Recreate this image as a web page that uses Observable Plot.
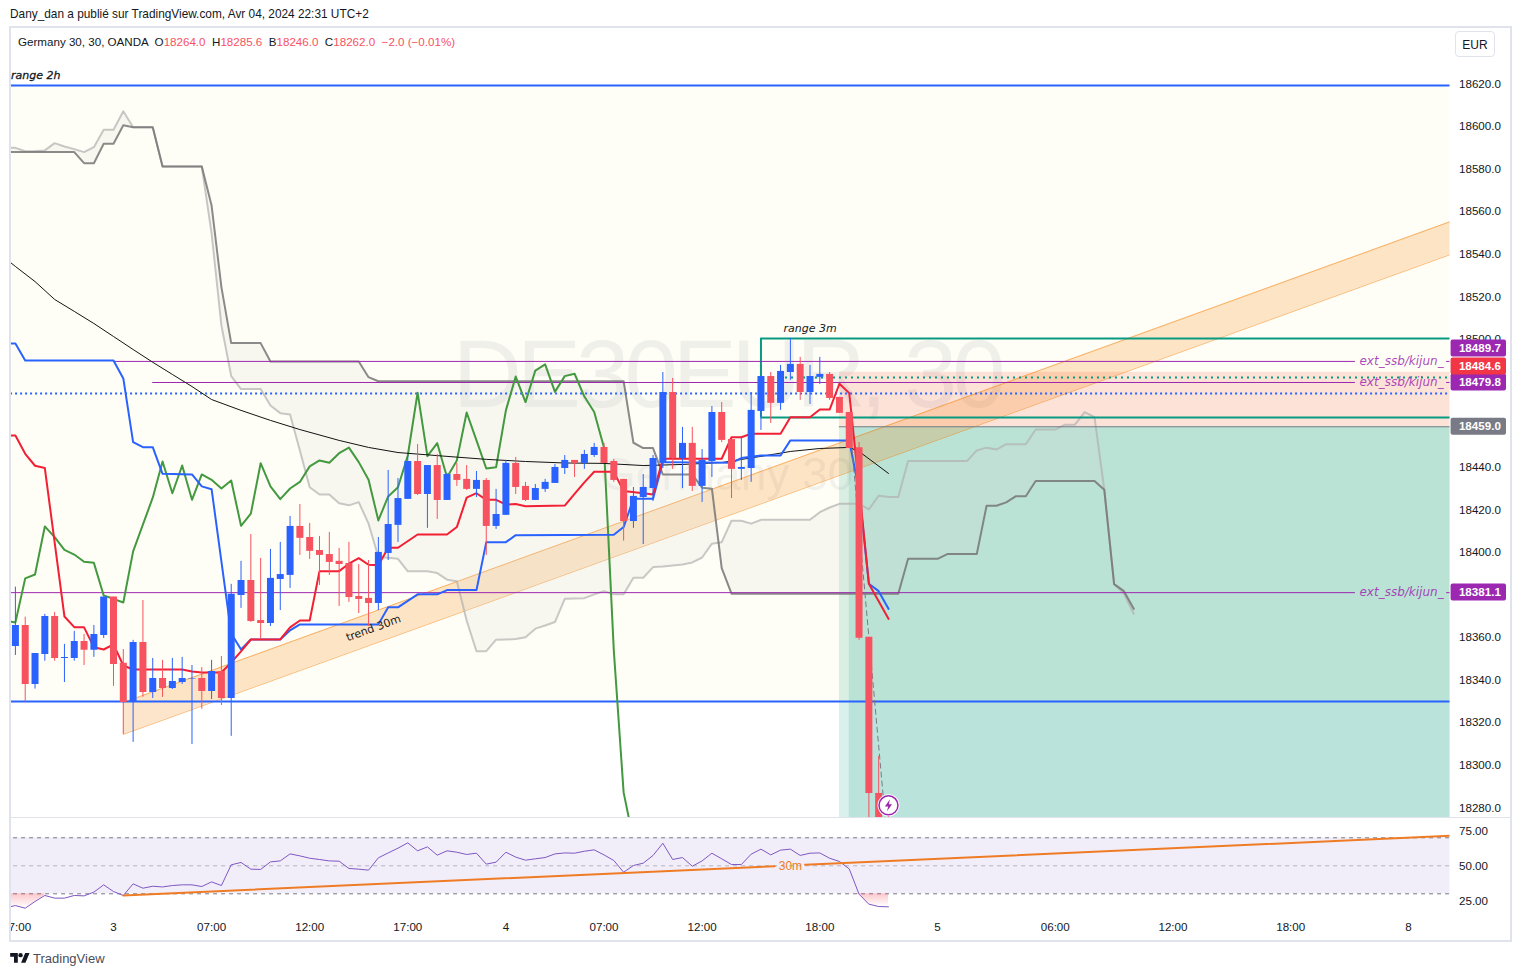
<!DOCTYPE html>
<html>
<head>
<meta charset="utf-8">
<script src="https://cdn.jsdelivr.net/npm/d3@7"></script>
<script src="https://cdn.jsdelivr.net/npm/@observablehq/plot@0.6"></script>
<style>
html,body{margin:0;padding:0;background:#fff;}
#page{position:relative;width:1521px;height:977px;overflow:hidden;font-family:"Liberation Sans",sans-serif;color:#131722;font-size:12px;}
#page>*{position:absolute;}
.frame{left:9px;top:26px;width:1503px;height:916px;border:2px solid #e0e3eb;box-sizing:border-box;}
.sep{left:11px;top:817px;width:1499px;height:1px;background:#e0e3eb;}
.title{left:10px;top:7px;white-space:pre;font-size:11.85px;}
.legend{left:18px;top:35px;white-space:pre;font-size:11.6px;}
.legend b{font-weight:normal;color:#f7525f;}
.eur{left:1455px;top:31px;width:40px;height:26px;border:1px solid #e0e3eb;border-radius:4px;text-align:center;line-height:26px;box-sizing:border-box;background:#fff;}
.brand{left:33px;top:951px;font-size:13px;color:#4a4e5a;}
.logo{left:10px;top:953px;}
svg{overflow:visible;}
</style>
</head>
<body>
<div id="page">
  <div class="title">Dany_dan a publié sur TradingView.com, Avr 04, 2024 22:31 UTC+2</div>
  <div class="legend">Germany 30, 30, OANDA  O<b>18264.0</b>  H<b>18285.6</b>  B<b>18246.0</b>  C<b>18262.0</b>  <b>−2.0 (−0.01%)</b></div>
  <svg class="logo" width="20" height="12" viewBox="0 0 36 22"><path fill="#131722" d="M14 18H7V7H0V0h14v18zM28 18h-8l7.5-18h8L28 18z"/><circle cx="19" cy="4" r="4" fill="#131722"/></svg>
  <div class="brand">TradingView</div>
</div>
<script>
// ---- candles, one entry per 30-minute bar (bar 0 is the first whole candle on the left)
const opens = [18355.8,18365.7,18338.0,18352.1,18369.9,18350.2,18350.2,18358.2,18354.0,18361.0,18379.0,18347.9,18330.0,18357.7,18334.2,18340.8,18336.1,18338.9,18340.5,18340.8,18334.7,18344.1,18331.4,18379.8,18386.8,18368.0,18366.6,18387.3,18389.2,18412.2,18407.0,18400.9,18399.0,18395.8,18394.8,18379.3,18378.4,18376.0,18399.5,18412.7,18424.9,18442.7,18427.2,18440.8,18424.4,18436.6,18434.3,18429.6,18433.8,18412.2,18417.4,18441.8,18431.0,18424.4,18429.6,18432.4,18439.4,18443.2,18441.8,18445.5,18449.3,18442.7,18434.3,18414.5,18425.8,18430.0,18441.8,18475.1,18444.1,18451.2,18431.0,18442.7,18465.7,18453.0,18439.0,18439.4,18466.2,18482.6,18470.0,18484.5,18488.3,18475.1,18482.2,18483.6,18472.8,18465.7,18449.2,18360.1,18286.8,18264.0];
const highs = [18383.7,18369.6,18352.5,18370.9,18371.8,18356.8,18362.9,18361.5,18365.7,18379.0,18379.0,18354.4,18358.7,18377.4,18350.2,18349.3,18350.2,18350.7,18346.9,18345.9,18349.3,18351.1,18385.0,18395.8,18408.4,18397.2,18401.4,18404.7,18416.9,18422.5,18413.6,18407.5,18409.4,18401.9,18404.7,18394.3,18396.2,18407.0,18438.5,18434.7,18445.5,18450.7,18440.8,18446.0,18437.1,18441.8,18440.8,18438.0,18434.7,18429.6,18443.2,18444.6,18432.9,18431.9,18434.3,18441.3,18445.5,18443.2,18447.9,18451.2,18451.2,18443.7,18434.3,18430.5,18436.6,18445.5,18484.5,18481.7,18458.7,18458.7,18448.3,18468.5,18470.4,18453.0,18454.0,18475.1,18482.6,18484.5,18487.8,18500.5,18491.6,18487.8,18491.6,18484.5,18472.8,18465.7,18451.6,18360.1,18304.2,18285.6];
const lows = [18351.6,18329.7,18335.8,18348.9,18348.9,18338.9,18348.9,18346.9,18350.7,18359.6,18337.1,18314.5,18310.8,18332.0,18331.4,18331.9,18335.6,18338.0,18309.8,18326.3,18330.9,18328.1,18313.6,18373.7,18367.1,18359.3,18365.2,18372.7,18383.1,18398.6,18396.7,18384.5,18389.2,18374.6,18376.5,18371.3,18365.2,18372.7,18396.2,18404.7,18424.9,18426.7,18411.3,18415.5,18424.4,18431.0,18429.1,18425.8,18398.6,18410.8,18417.4,18427.2,18423.9,18424.4,18428.2,18432.4,18436.6,18435.2,18439.0,18444.6,18441.8,18432.9,18405.3,18411.3,18403.7,18423.9,18439.4,18439.0,18430.0,18428.6,18423.5,18435.2,18451.6,18425.3,18433.8,18432.9,18457.3,18460.6,18466.7,18480.8,18471.4,18469.5,18478.9,18471.4,18465.3,18448.8,18358.7,18262.0,18255.0,18246.0];
const closes = [18365.7,18338.0,18352.5,18369.9,18350.2,18350.7,18358.2,18354.0,18361.5,18379.0,18347.4,18329.5,18357.7,18334.2,18340.8,18336.1,18339.4,18340.8,18340.8,18334.7,18344.1,18331.4,18380.3,18386.8,18367.6,18366.6,18387.8,18389.6,18412.2,18406.6,18400.5,18398.6,18395.3,18394.3,18378.8,18377.9,18376.0,18400.0,18413.1,18425.3,18442.7,18427.2,18440.8,18424.4,18436.6,18433.8,18429.6,18433.8,18412.2,18417.8,18441.8,18430.5,18424.4,18430.0,18432.9,18439.9,18443.2,18441.8,18446.0,18449.3,18441.8,18433.8,18414.5,18426.3,18430.5,18444.1,18475.1,18444.1,18451.2,18431.0,18443.2,18465.7,18452.6,18439.0,18439.9,18466.7,18482.6,18470.0,18485.0,18488.3,18475.1,18482.6,18483.6,18472.3,18465.3,18448.8,18359.7,18286.8,18264.0,18262.0];

// ---- indicator lines, [bar, price] at each vertex
const redLine = [[-1,18454.9],[0,18454.9],[1,18446.3],[2,18440.7],[3,18439.6],[5,18369.9],[6,18364.9],[7,18364.8],[8,18355.5],[9,18354.4],[10,18356.8],[11,18346.9],[12,18345.0],[17,18345.0],[18,18344.1],[19,18343.6],[21,18343.6],[22,18348.3],[23,18353.5],[24,18359.1],[27,18359.1],[28,18364.8],[29,18368.0],[30,18368.0],[31,18391.2],[33,18391.2],[34,18394.7],[35,18397.3],[36,18394.2],[37,18394.0],[38,18402.2],[39,18402.2],[41,18408.4],[44,18408.4],[45,18411.9],[46,18425.7],[47,18427.8],[48,18424.7],[49,18424.7],[50,18422.5],[51,18422.7],[52,18421.7],[56,18422.0],[57,18427.5],[58,18432.9],[59,18437.9],[61,18437.9],[62,18428.8],[64,18427.8],[65,18427.2],[66,18444.0],[72,18444.0],[73,18454.1],[74,18454.1],[75,18455.7],[78,18455.7],[79,18463.5],[81,18463.5],[82,18467.1],[83,18467.1],[84,18479.2],[85,18474.8],[86,18431.0],[87,18385.3],[89,18368.8]];
const blueLine = [[-1,18498.1],[0,18498.1],[1,18490.1],[10,18490.1],[11,18481.7],[12,18451.8],[13,18449.4],[14,18449.4],[15,18436.9],[18,18436.6],[19,18431.0],[20,18429.7],[22,18361.9],[23,18354.4],[24,18359.1],[27,18359.1],[28,18363.4],[29,18366.2],[37,18366.2],[38,18374.2],[39,18374.2],[41,18380.3],[43,18380.3],[44,18382.3],[47,18382.3],[48,18404.8],[50,18404.8],[51,18408.1],[61,18408.3],[62,18411.9],[63,18425.2],[65,18425.2],[66,18442.4],[73,18442.1],[74,18444.3],[76,18445.5],[78,18445.5],[79,18452.6],[85,18452.6],[86,18429.1],[87,18385.3],[88,18381.8],[89,18373.5]];
const greenLine = [[-1,18368.0],[0,18367.1],[1,18387.8],[2,18389.6],[3,18412.2],[4,18407.2],[5,18401.2],[6,18399.0],[7,18395.6],[8,18395.1],[9,18379.8],[11,18376.5],[12,18400.5],[14,18425.7],[15,18442.7],[16,18427.8],[17,18440.8],[18,18424.7],[19,18436.6],[20,18434.1],[21,18430.0],[22,18433.8],[23,18412.5],[24,18418.2],[25,18441.9],[26,18431.0],[27,18425.0],[28,18430.0],[29,18433.1],[30,18440.4],[31,18443.2],[32,18442.1],[33,18446.6],[34,18449.2],[35,18442.4],[36,18434.1],[37,18415.0],[38,18426.3],[39,18430.6],[40,18445.5],[41,18475.0],[42,18445.2],[43,18451.3],[44,18435.3],[45,18443.2],[46,18465.7],[47,18452.6],[48,18439.4],[49,18440.0],[50,18466.7],[51,18482.6],[52,18470.6],[53,18485.4],[54,18488.3],[55,18475.4],[56,18482.8],[57,18483.9],[58,18473.2],[59,18465.9],[60,18449.3],[61,18354.0],[62,18287.3],[63,18264.7]];
const maLine = [[-1,18538.0],[0,18534.3],[2,18527.2],[4,18518.8],[6,18513.2],[8,18507.5],[10,18501.4],[12,18495.3],[14,18489.3],[16,18483.6],[18,18477.9],[20,18471.8],[23,18466.7],[26,18462.0],[29,18457.7],[33,18452.6],[36,18449.3],[39,18446.9],[44,18445.1],[48,18443.7],[52,18442.7],[56,18442.0],[60,18441.8],[64,18440.8],[68,18441.3],[72,18442.2],[76,18445.1],[79,18447.4],[82,18448.8],[85,18449.3],[86,18447.4],[89,18437.1]];

// ---- Ichimoku cloud, one value per bar starting at bar -1
const spanA = [18590.0,18590.0,18588.4,18588.5,18588.8,18592.2,18590.6,18589.4,18588.0,18590.3,18598.5,18598.5,18607.2,18599.7,18599.7,18599.7,18581.2,18581.2,18581.2,18581.2,18581.2,18549.8,18506.6,18482.8,18476.7,18476.7,18476.7,18469.0,18465.4,18464.8,18447.9,18430.6,18427.2,18427.2,18423.1,18422.1,18423.6,18413.5,18397.8,18397.5,18397.0,18391.1,18391.1,18391.1,18390.3,18387.2,18386.5,18368.0,18353.6,18353.6,18359.0,18359.1,18359.3,18360.2,18364.2,18365.7,18367.3,18378.2,18378.4,18378.5,18380.3,18381.8,18380.3,18380.3,18388.1,18388.1,18393.1,18393.4,18393.9,18394.3,18395.3,18397.6,18404.1,18404.8,18414.9,18414.9,18413.5,18415.3,18415.3,18415.3,18415.3,18415.3,18415.3,18418.9,18421.1,18422.8,18422.8,18422.8,18420.2,18426.6,18426.0,18426.0,18442.9,18442.9,18442.9,18442.9,18442.9,18442.9,18442.9,18447.9,18449.2,18448.3,18450.8,18450.8,18450.8,18457.7,18457.7,18457.7,18460.0,18460.0,18465.9,18463.5,18429.4,18385.1,18380.7,18371.2];
const spanB = [18588.0,18588.0,18588.0,18588.0,18588.0,18588.0,18588.0,18588.0,18582.8,18582.8,18591.9,18591.9,18600.6,18599.7,18599.7,18599.7,18581.2,18581.2,18581.2,18581.2,18581.2,18562.9,18524.6,18498.3,18498.3,18498.3,18498.3,18489.7,18489.7,18489.7,18489.7,18489.7,18489.7,18489.7,18489.7,18489.7,18489.7,18482.3,18480.4,18480.4,18480.4,18480.4,18480.4,18480.4,18480.4,18480.4,18480.4,18480.4,18480.4,18480.4,18480.4,18480.4,18480.4,18480.4,18480.4,18480.4,18480.4,18480.4,18480.4,18480.4,18480.4,18480.4,18480.4,18480.4,18451.5,18449.0,18449.0,18436.6,18436.6,18436.6,18436.6,18430.4,18429.9,18392.6,18380.6,18380.6,18380.6,18380.6,18380.6,18380.6,18380.6,18380.6,18380.6,18380.6,18380.6,18380.6,18380.6,18380.6,18380.6,18380.6,18380.6,18380.6,18397.0,18397.0,18397.0,18397.0,18399.2,18399.2,18399.2,18399.2,18421.9,18421.9,18423.5,18426.4,18426.4,18433.5,18433.5,18433.5,18433.5,18433.5,18433.5,18433.5,18429.4,18385.1,18381.8,18373.5];

// ---- drawings
const rangeTwoHours = [18619.3, 18330.0];
const dottedBlue = 18474.6;
const rangeThreeMinutes = [18500.5, 18463.4];
const dottedTeal = 18482.2;
const stopZone = [18484.6, 18459.0];
const profitZone = [18459.0, 18200.0];
const purpleLevels = [18489.7, 18479.8, 18381.1];
const channelBars = [11, 146.3];
const channelUpper = [18329.5, 18555.4];
const channelLower = [18314.5, 18539.9];
const forecastPath = [[85.2,18452.6],[88.5,18283.5]];

// ---- price scale labels and tags
const priceTicks = [18280,18300,18320,18340,18360,18380,18400,18420,18440,18460,18480,18500,18520,18540,18560,18580,18600,18620];
const tagLabels = ["18489.7","18484.6","18479.8","18459.0","18381.1"];
const tagCentres = [18495.8,18487.3,18479.8,18459.0,18381.2];
const tagColours = ["#9c27b0","#f23645","#9c27b0","#787b86","#9c27b0"];

// ---- RSI pane, one value per bar starting at bar -1
const rsi = [20.0,21.6,19.7,24.5,28.8,26.9,26.9,28.8,28.5,31.2,36.4,31.6,28.8,37.1,34.0,35.4,34.9,35.9,36.4,36.4,35.2,38.5,35.9,50.7,52.4,47.6,47.4,52.8,53.5,58.5,57.1,55.4,54.5,53.5,53.3,48.1,47.6,46.9,55.7,59.2,62.6,66.4,60.7,63.5,57.6,60.7,59.7,58.1,59.0,51.2,52.6,59.7,56.2,54.0,55.0,55.9,58.5,59.2,59.0,60.4,61.4,57.8,53.8,45.4,50.2,51.9,57.4,66.1,54.5,55.9,49.7,53.5,59.0,55.0,50.9,50.9,58.3,61.9,57.8,61.2,61.9,57.4,59.0,59.2,55.4,53.1,47.8,29.7,22.6,20.9,20.7];
const rsiTrendBars = [[11,77.4],[80.5,146.3]];
const rsiTrendValues = [[28.8,49.7],[50.7,71.4]];
const rsiBand = [30,70];
const rsiTicks = [25,50,75];

// ---- time axis
const timeBars = [0.45,10,20,30,40,50,60,70,82,94,106,118,130,142];
const timeLabels = ["7:00","3","07:00","12:00","17:00","4","07:00","12:00","18:00","5","06:00","12:00","18:00","8"];

// ---- scales
const barDomain = [-0.4485, 146.24];
const priceDomain = [18275.5, 18646.05];
const rsiDomain = [16.64, 83.79];
const FONT = '"Liberation Sans", sans-serif';
const ITALIC = '"DejaVu Sans", sans-serif';
const BLUE = "#2962ff", RED = "#f7525f", TEAL = "#089981", PURPLE = "#9c27b0", ORANGE = "#ef7c25";

const candles = opens.map((o,i)=>({i,o,h:highs[i],l:lows[i],c:closes[i]}));
const up = candles.filter(d=>d.c>=d.o), down = candles.filter(d=>d.c<d.o);
const pts = a => a.map(([i,p])=>({i,p}));
const cloud = spanA.map((a,k)=>({i:k-1,a,b:spanB[k]}));
const clip = "frame";
const spaced = s => (index,scales,values,dims,ctx,next)=>{const g=next(index,scales,values,dims,ctx);g.style.letterSpacing=s;return g;};
const line = (a,o)=>Plot.line(pts(a),{x:"i",y:"p",clip,...o});
const hRule = (y,x1,x2,o)=>Plot.ruleY([{y,x1,x2}],{y:"y",x1:"x1",x2:"x2",clip,...o});
const zone = (x1,x2,y1,y2,o)=>Plot.rect([{x1,x2,y1,y2}],{x1:"x1",x2:"x2",y1:"y1",y2:"y2",clip,...o});
const label = (i,p,text,o)=>Plot.text([{i,p,text}],{x:"i",y:"p",text:"text",...o});
const tagRows = tagLabels.map((t,k)=>({t,y:tagCentres[k],c:tagColours[k]}));
const tagRect = c => Plot.rect(tagRows.filter(d=>d.c===c),{x1:()=>146.35,x2:()=>152,y1:d=>d.y-4,y2:d=>d.y+4,fill:c,rx:2});

const bolt = {draw(ctx,size){const r=Math.sqrt(size/Math.PI);
  ctx.moveTo(.25*r,-r);ctx.lineTo(-.6*r,.18*r);ctx.lineTo(-.05*r,.18*r);ctx.lineTo(-.25*r,r);ctx.lineTo(.6*r,-.18*r);ctx.lineTo(.05*r,-.18*r);ctx.closePath();}};

const main = Plot.plot({
  width:1521,height:789,marginLeft:10.5,marginRight:71.5,marginTop:0,marginBottom:0,
  style:{background:"transparent",fontFamily:FONT,fontSize:"11.6px",color:"#131722",overflow:"visible"},
  x:{domain:barDomain,axis:null},
  y:{domain:priceDomain,axis:null},
  marks:[
    zone(-1,147,rangeTwoHours[1],rangeTwoHours[0],{fill:"#fffef6"}),
    label(72.5,18482.5,"DE30EUR, 30",{fontSize:96,fontFamily:FONT,fill:"#787b86",fillOpacity:.11,render:spaced("-5px")}),
    label(72.5,18436,"Germany 30",{fontSize:46,fontFamily:FONT,fill:"#787b86",fillOpacity:.11}),
    zone(84,147,stopZone[1],stopZone[0],{fill:"#f2432e",fillOpacity:.15}),
    zone(84,147,profitZone[1],profitZone[0],{fill:TEAL,fillOpacity:.15}),
    zone(85,147,profitZone[1],profitZone[0],{fill:TEAL,fillOpacity:.15}),
    Plot.areaY([0,1].map(k=>({i:channelBars[k],a:channelUpper[k],b:channelLower[k]})),{x:"i",y1:"a",y2:"b",fill:"#f57c00",fillOpacity:.2,clip}),
    Plot.line(channelBars.map((i,k)=>({i,p:channelUpper[k]})),{x:"i",y:"p",stroke:"#f57c00",strokeOpacity:.5,strokeWidth:1,clip}),
    Plot.line(channelBars.map((i,k)=>({i,p:channelLower[k]})),{x:"i",y:"p",stroke:"#f57c00",strokeOpacity:.5,strokeWidth:1,clip}),
    Plot.areaY(cloud,{x:"i",y1:"a",y2:"b",fill:"#dcdcd8",fillOpacity:.2,clip}),
    Plot.line(cloud,{x:"i",y:"a",stroke:"#b0b0b0",strokeOpacity:.7,strokeWidth:2,clip}),
    Plot.line(cloud,{x:"i",y:"b",stroke:"#767676",strokeOpacity:.85,strokeWidth:2,clip}),
    hRule(rangeTwoHours[0],-1,147,{stroke:BLUE,strokeWidth:2}),
    hRule(rangeTwoHours[1],-1,147,{stroke:BLUE,strokeWidth:2}),
    hRule(dottedBlue,-1,147,{stroke:BLUE,strokeWidth:2,strokeDasharray:"2 3"}),
    hRule(dottedTeal,78.5,147,{stroke:TEAL,strokeWidth:2,strokeDasharray:"2 4"}),
    hRule(rangeThreeMinutes[0],76,147,{stroke:TEAL,strokeWidth:2}),
    hRule(rangeThreeMinutes[1],76,147,{stroke:TEAL,strokeWidth:2}),
    Plot.ruleX([76],{y1:rangeThreeMinutes[1],y2:rangeThreeMinutes[0],stroke:TEAL,strokeWidth:2,clip}),
    hRule(stopZone[1],84,147,{stroke:"#787b86",strokeWidth:1}),
    hRule(purpleLevels[0],10,136.6,{stroke:PURPLE,strokeWidth:1}),
    hRule(purpleLevels[0],145.9,147,{stroke:PURPLE,strokeWidth:1}),
    hRule(purpleLevels[1],14,136.6,{stroke:PURPLE,strokeWidth:1}),
    hRule(purpleLevels[1],145.9,147,{stroke:PURPLE,strokeWidth:1}),
    hRule(purpleLevels[2],-1,136.6,{stroke:PURPLE,strokeWidth:1}),
    hRule(purpleLevels[2],145.9,147,{stroke:PURPLE,strokeWidth:1}),
    line(greenLine,{stroke:"#43993f",strokeWidth:2}),
    line(maLine,{stroke:"#131313",strokeWidth:1}),
    line(blueLine,{stroke:BLUE,strokeWidth:2}),
    line(redLine,{stroke:"#f21f35",strokeWidth:2}),
    line(forecastPath,{stroke:"#787b86",strokeWidth:1,strokeDasharray:"5 4"}),
    Plot.ruleX(up,{x:"i",y1:"l",y2:"h",stroke:BLUE,strokeWidth:1,clip}),
    Plot.ruleX(down,{x:"i",y1:"l",y2:"h",stroke:RED,strokeWidth:1,clip}),
    Plot.ruleX(up,{x:"i",y1:"o",y2:"c",stroke:BLUE,strokeWidth:7,clip}),
    Plot.ruleX(down,{x:"i",y1:"o",y2:"c",stroke:RED,strokeWidth:7,clip}),
    label(36.5,18364.4,"trend 30m",{fontFamily:ITALIC,fontSize:11,fill:"#222",rotate:-20}),
    label(-0.4485,18624,"range 2h",{fontFamily:ITALIC,fontStyle:"italic",fontSize:11,fill:"#131722",stroke:"#131722",strokeWidth:.3,textAnchor:"start"}),
    label(81,18505.2,"range 3m",{fontFamily:ITALIC,fontStyle:"italic",fontSize:11,fill:"#131722"}),
    ...purpleLevels.map(p=>label(141.3,p,"ext_ssb/kijun_",{fontFamily:ITALIC,fontStyle:"italic",fontSize:12,fill:PURPLE,fillOpacity:.85})),
    Plot.dot([{i:89,p:18281.2}],{x:"i",y:"p",r:11,fill:"#fff"}),
    Plot.dot([{i:89,p:18281.2}],{x:"i",y:"p",r:9.5,fill:"#fff",stroke:PURPLE,strokeWidth:1.5}),
    Plot.dot([{i:89,p:18281.2}],{x:"i",y:"p",r:6,symbol:bolt,fill:PURPLE,stroke:"none"}),
    Plot.axisY(priceTicks,{anchor:"right",tickSize:0,tickPadding:9,label:null,tickFormat:d=>d.toFixed(1),fill:"#131722"}),
    tagRect("#9c27b0"),tagRect("#f23645"),tagRect("#787b86"),
    Plot.text(tagRows,{x:()=>147.15,y:"y",text:"t",fill:"#fff",textAnchor:"start",fontWeight:"bold",fontSize:11.6,fontFamily:FONT})
  ]
});
main.style.cssText += ";position:absolute;left:0;top:27.5px;";

const gradient = () => {
  const ns="http://www.w3.org/2000/svg";
  const defs=document.createElementNS(ns,"defs");
  const g=document.createElementNS(ns,"linearGradient");
  g.setAttribute("id","rsiFade");g.setAttribute("x1","0");g.setAttribute("x2","0");g.setAttribute("y1","0");g.setAttribute("y2","1");
  [[0,"#f23645",.28],[1,"#f23645",0]].forEach(([o,c,a])=>{const s=document.createElementNS(ns,"stop");s.setAttribute("offset",o);s.setAttribute("stop-color",c);s.setAttribute("stop-opacity",a);g.appendChild(s);});
  defs.appendChild(g);return defs;
};
const rsiRows = rsi.map((v,k)=>({i:k-1,v,low:Math.min(v,30)}));
const rsiPlot = Plot.plot({
  width:1521,height:123,marginLeft:10.5,marginRight:71.5,marginTop:0,marginBottom:29,
  style:{background:"transparent",fontFamily:FONT,fontSize:"11.6px",color:"#131722",overflow:"visible"},
  x:{domain:barDomain},
  y:{domain:rsiDomain},
  marks:[
    gradient,
    zone(-1,147,rsiBand[0],rsiBand[1],{fill:"#7e57c2",fillOpacity:.1}),
    hRule(rsiBand[1],-1,147,{stroke:"#787b86",strokeWidth:1,strokeDasharray:"4 4"}),
    hRule(50,-1,147,{stroke:"#787b86",strokeOpacity:.5,strokeWidth:1,strokeDasharray:"4 4"}),
    hRule(rsiBand[0],-1,147,{stroke:"#787b86",strokeWidth:1,strokeDasharray:"4 4"}),
    Plot.areaY(rsiRows.filter(d=>d.i<=3),{x:"i",y1:()=>30,y2:"low",fill:"url(#rsiFade)",clip}),
    Plot.areaY(rsiRows.filter(d=>d.i>=85),{x:"i",y1:()=>30,y2:"low",fill:"url(#rsiFade)",clip}),
    Plot.line(rsiRows,{x:"i",y:"v",stroke:"#7e57c2",strokeWidth:1,clip}),
    ...rsiTrendBars.map((b,k)=>Plot.line(b.map((i,j)=>({i,p:rsiTrendValues[k][j]})),{x:"i",y:"p",stroke:ORANGE,strokeWidth:2,clip})),
    label(79,50,"30m",{fill:ORANGE,fontSize:12,fontFamily:FONT}),
    Plot.axisY(rsiTicks,{anchor:"right",tickSize:0,tickPadding:9,label:null,tickFormat:d=>d.toFixed(2),fill:"#131722"}),
    Plot.axisX(timeBars,{anchor:"bottom",tickSize:0,tickPadding:10.5,label:null,tickFormat:d=>timeLabels[timeBars.indexOf(d)],fill:"#131722"})
  ]
});
rsiPlot.style.cssText += ";position:absolute;left:0;top:817.5px;";

const page = document.getElementById("page");
page.appendChild(main);
page.appendChild(rsiPlot);
["frame","sep"].forEach(c=>{const d=document.createElement("div");d.className=c;page.appendChild(d);});
const eur=document.createElement("div");eur.className="eur";eur.textContent="EUR";page.appendChild(eur);
</script>
</body>
</html>
